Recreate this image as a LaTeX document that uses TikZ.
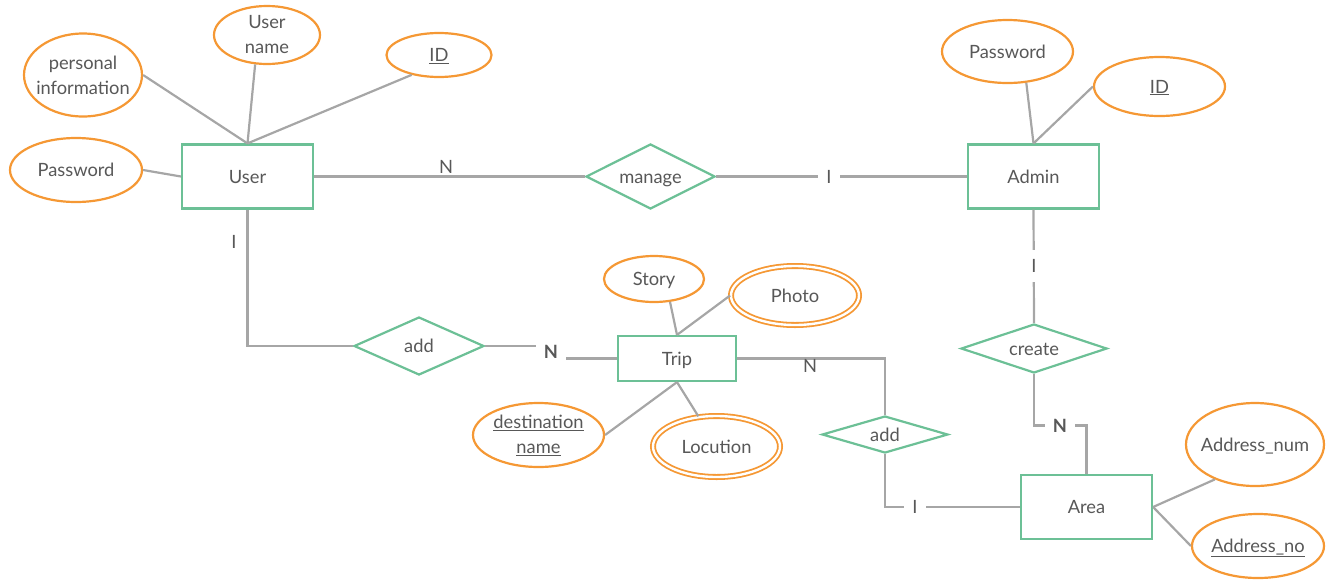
\documentclass[tikz,border=0pt]{standalone}
\usepackage{fontspec}
\setmainfont{Lato}
\usetikzlibrary{shapes.geometric}
\definecolor{ent}{RGB}{108,192,150}
\definecolor{att}{RGB}{245,152,52}
\definecolor{lin}{RGB}{166,166,166}
\definecolor{txt}{RGB}{88,88,88}
\newcommand{\zw}[1]{\makebox[0pt]{#1}}
\begin{document}
\begin{tikzpicture}[x=1pt,y=-1pt,
 every node/.style={font=\fontsize{18.3}{25}\selectfont, text=txt, inner sep=0pt},
 oneline/.style={text height=13.1pt, text depth=0pt},
 entity/.style={oneline, draw=ent, line width=2.2pt, rectangle, minimum width=131pt, minimum height=64pt, fill=white},
 rel/.style={oneline, draw=ent, line width=2.2pt, diamond, fill=white},
 attr/.style={draw=att, line width=2.2pt, ellipse, fill=white, align=center},
 attr1/.style={attr, oneline},
 multi/.style={attr1, double=white, double distance=2.4pt, line width=1.8pt},
 conn/.style={draw=lin, line width=2.2pt},
 cardh/.style={oneline, fill=white, inner xsep=8pt, inner ysep=3pt},
 cardv/.style={oneline, fill=white, inner xsep=3pt, inner ysep=9pt},
 lbl/.style={oneline}
]
\useasboundingbox (0,0) rectangle (1334,582);

% entities
\node[entity] (user) at (247.5,176.5) {User};
\node[entity] (admin) at (1033.5,176.5) {Admin};
\node[entity, minimum width=118pt, minimum height=45pt] (trip) at (677,358.5) {Trip};
\node[entity] (area) at (1086.5,507) {Area};

% relationships
\node[rel, minimum width=129pt, minimum height=65pt] (manage) at (650.5,176.5) {\zw{manage}};
\node[rel, minimum width=130pt, minimum height=58pt] (add1) at (419,346) {\zw{add}};
\node[rel, minimum width=126pt, minimum height=37pt] (add2) at (885,434.5) {\zw{add}};
\node[rel, minimum width=146pt, minimum height=49pt] (create) at (1034,348.5) {\zw{create}};

% attributes
\node[attr, minimum width=118pt, minimum height=83pt] (pinfo) at (83,75) {\zw{personal}\\\zw{information}};
\node[attr, minimum width=106pt, minimum height=58pt] (uname) at (267,35) {\zw{User}\\\zw{name}};
\node[attr1, minimum width=105pt, minimum height=44pt] (uid) at (439,55) {\zw{\underline{ID}}};
\node[attr1, minimum width=132pt, minimum height=64pt] (upw) at (76,170) {\zw{Password}};
\node[attr1, minimum width=131pt, minimum height=63pt] (apw) at (1007.5,51.5) {\zw{Password}};
\node[attr1, minimum width=131pt, minimum height=59pt] (aid) at (1159.5,86.5) {\zw{\underline{ID}}};
\node[attr1, minimum width=100pt, minimum height=46pt] (story) at (654,279) {\zw{Story}};
\node[multi, minimum width=128pt, minimum height=59pt] (photo) at (795,295.5) {\zw{Photo}};
\node[attr, minimum width=131pt, minimum height=64pt] (dest) at (538.5,435) {\zw{\underline{destination}}\\\zw{\underline{name}}};
\node[multi, minimum width=127pt, minimum height=61pt] (locu) at (716.5,446.5) {\zw{Locution}};
\node[attr1, minimum width=138pt, minimum height=83pt] (anum) at (1255,444.5) {\zw{Address\_num}};
\node[attr1, minimum width=132pt, minimum height=64pt] (ano) at (1258,546) {\zw{\underline{Address\_no}}};

% attribute links
\draw[conn] (pinfo.east) -- (user.north);
\draw[conn] (uname.-112) -- (user.north);
\draw[conn] (uid.-144) -- (user.north);
\draw[conn] (upw.east) -- (user.west);
\draw[conn] (apw.-59) -- (admin.north);
\draw[conn] (aid.west) -- (admin.north);
\draw[conn] (story.-55) -- (trip.north);
\draw[conn] (photo.west) -- (trip.north);
\draw[conn] (dest.east) -- (trip.south);
\draw[conn] (locu.121) -- (trip.south);
\draw[conn] (anum.-139) -- (area.east);
\draw[conn] (ano.west) -- (area.east);

% relationship links
\draw[conn] (user.east) -- (manage.west);
\node[lbl] (cN1) at (446,167) {N};
\draw[conn] (manage.east) -- (admin.west);
\node[cardh] (cI1) at (829,177) {I};
\draw[conn] (admin.south) -- (create.north);
\node[cardv] (cI2) at (1034,266) {I};
\coordinate (ca) at (1060,425.5);
\draw[conn] (create.south) |- (ca) -| (area.north);
\node[cardh] (cN2) at (ca) {\textbf{N}};
\draw[conn] (user.south) |- (add1.west);
\node[lbl] (cI3) at (234,242) {I};
\coordinate (nt) at (551,352);
\draw[conn] (add1.east) -| (nt) |- (trip.west);
\node[cardh] (cN3) at (nt) {\textbf{N}};
\draw[conn] (trip.east) -| (add2.north);
\node[lbl] (cN4) at (810,366) {N};
\draw[conn] (add2.south) |- (area.west);
\node[cardh] (cI4) at (915,507) {I};
\end{tikzpicture}
\end{document}
